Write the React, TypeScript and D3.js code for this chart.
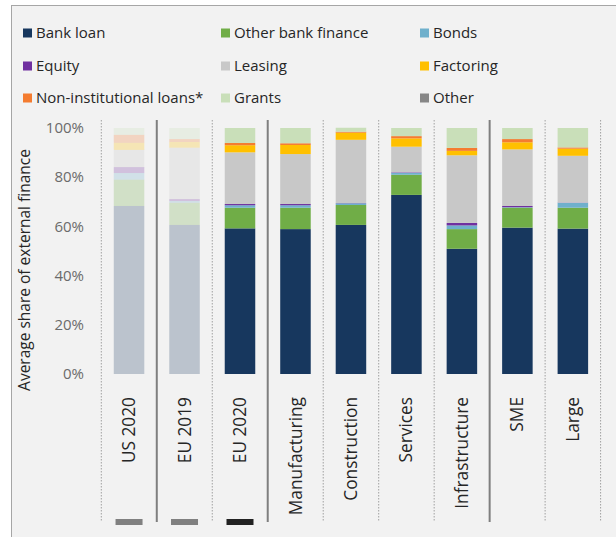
import React, { useEffect } from "react";
import * as d3 from "d3";

const categories = ["US 2020", "EU 2019", "EU 2020", "Manufacturing", "Construction", "Services", "Infrastructure", "SME", "Large"];
const seriesNames = ["Bank loan", "Other bank finance", "Bonds", "Equity", "Leasing", "Factoring", "Non-institutional loans*", "Grants", "Other"];
const seriesColors = ["#17375e", "#70ad47", "#6fb0cc", "#7030a0", "#c8c8c8", "#ffc000", "#f47c30", "#c9dfb9", "#878787"];

const bankLoan = [68.3, 60.6, 59.2, 58.9, 60.6, 72.8, 50.9, 59.5, 59.1];
const otherBankFinance = [10.7, 9.0, 8.4, 8.7, 8.1, 8.2, 8.0, 8.1, 8.5];
const bonds = [2.7, 0.7, 1.0, 1.0, 0.7, 0.8, 1.5, 0.2, 2.0];
const equity = [2.4, 0.8, 0.5, 0.5, 0.1, 0.2, 1.0, 0.5, 0.1];
const leasing = [7.0, 20.9, 21.0, 20.3, 25.7, 10.4, 27.5, 23.0, 19.0];
const factoring = [2.9, 2.3, 2.9, 3.7, 2.9, 3.4, 1.8, 2.9, 2.9];
const nonInstitutional = [3.2, 1.2, 0.9, 0.7, 0.4, 0.9, 1.2, 1.3, 0.5];
const grants = [2.8, 4.5, 6.1, 6.2, 1.6, 3.3, 8.1, 4.5, 7.9];
const other = [0.0, 0.0, 0.0, 0.0, 0.0, 0.0, 0.0, 0.0, 0.0];

const faded = [true, true, false, false, false, false, false, false, false];
const solidSeparatorAfter = ["US 2020", "EU 2020", "Infrastructure"];
const markerColors = ["#808080", "#808080", "#222222", null, null, null, null, null, null];
const yTicks = [0, 20, 40, 60, 80, 100];

const FONT = "'Open Sans', 'Noto Sans', sans-serif";

export default function App() {
  useEffect(() => {
    document.body.style.margin = "0";
  }, []);

  const W = 616, H = 537;
  const x = d3.scaleBand<string>().domain(categories).range([101.3, 600.6]).padding(0);
  const y = d3.scaleLinear().domain([0, 100]).range([374, 128]);
  const barW = x.bandwidth() * 0.55;

  const allSeries = [bankLoan, otherBankFinance, bonds, equity, leasing, factoring, nonInstitutional, grants, other];
  const rows = categories.map((c, i) => {
    const r: any = { cat: c };
    seriesNames.forEach((s, k) => (r[s] = allSeries[k][i]));
    return r;
  });
  const stack = d3.stack<any>().keys(seriesNames)(rows);

  const legendCols = [20, 218, 417];
  const legendRows = [33, 66, 98];

  const sepTop = 120, sepBottom = 522;

  return (
    <svg width={W} height={H} style={{ display: "block", fontFamily: FONT }}>
      <rect x={0} y={0} width={W} height={H} fill="#ffffff" />
      <rect x={11.5} y={5.5} width={W} height={H} fill="#f2f2f2" stroke="#a6a6a6" strokeWidth={1} />

      {/* legend */}
      {seriesNames.map((s, k) => {
        const cx = legendCols[k % 3];
        const cy = legendRows[Math.floor(k / 3)];
        return (
          <g key={s}>
            <rect x={cx + 3} y={cy - 4.5} width={9} height={9} fill={seriesColors[k]} />
            <text x={cx + 16} y={cy} dy="0.35em" fontSize={15} fill="#262626">{s}</text>
          </g>
        );
      })}

      {/* separators */}
      {categories.map((c, i) => {
        const xl = x(c)!;
        const lines = [];
        if (i === 0) {
          lines.push(<line key={"l" + i} x1={xl} x2={xl} y1={sepTop} y2={sepBottom} stroke="#a0a0a0" strokeWidth={1} strokeDasharray="1.5,1.5" />);
        }
        const xr = xl + x.bandwidth();
        const solid = solidSeparatorAfter.includes(c);
        lines.push(
          <line key={"r" + i} x1={xr} x2={xr} y1={sepTop} y2={sepBottom}
            stroke={solid ? "#7f7f7f" : "#a0a0a0"} strokeWidth={solid ? 2 : 1}
            strokeDasharray={solid ? undefined : "1.5,1.5"} />
        );
        return <g key={c}>{lines}</g>;
      })}

      {/* bars */}
      {stack.map((layer, k) => (
        <g key={seriesNames[k]} fill={seriesColors[k]}>
          {layer.map((d, i) => {
            const h = y(d[0]) - y(d[1]);
            if (h <= 0) return null;
            return (
              <rect key={i} x={x(categories[i])! + (x.bandwidth() - barW) / 2} y={y(d[1])} width={barW} height={h}
                opacity={faded[i] ? 0.25 : 1} />
            );
          })}
        </g>
      ))}

      {/* y axis */}
      {yTicks.map((t) => (
        <text key={t} x={84} y={y(t)} dy="0.35em" textAnchor="end" fontSize={15} fill="#6b6b6b">{t}%</text>
      ))}
      <text transform={`translate(30,270) rotate(-90)`} textAnchor="middle" fontSize={15.5} fill="#262626">
        Average share of external finance
      </text>

      {/* category labels */}
      {categories.map((c) => (
        <text key={c} transform={`translate(${x(c)! + x.bandwidth() / 2},397) rotate(-90)`} textAnchor="end" dy="0.35em" fontSize={17.3} fill="#262626">{c}</text>
      ))}

      {/* markers */}
      {categories.map((c, i) => markerColors[i] ? (
        <rect key={c} x={x(c)! + (x.bandwidth() - 27) / 2} y={519} width={27} height={6} fill={markerColors[i]!} />
      ) : null)}
    </svg>
  );
}
